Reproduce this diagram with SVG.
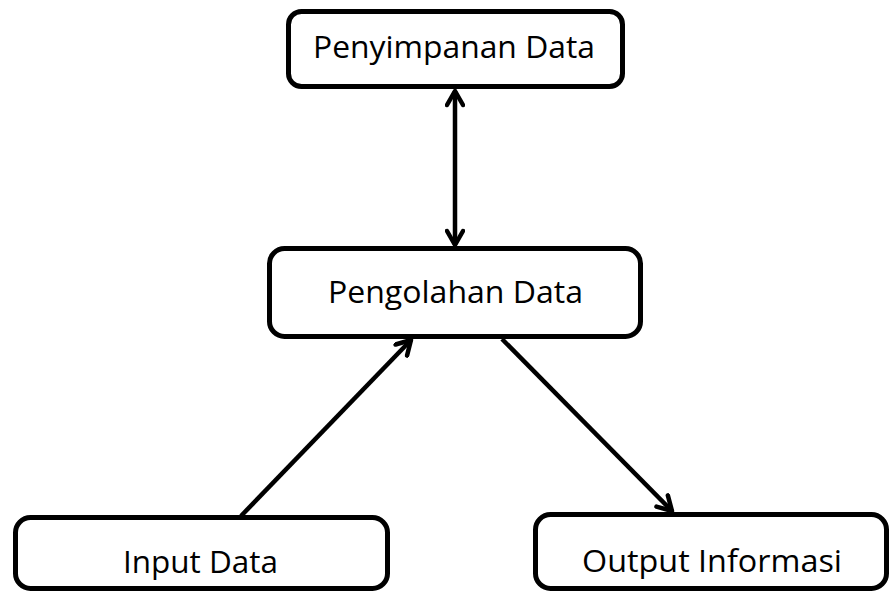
<svg xmlns="http://www.w3.org/2000/svg" width="889" height="591" viewBox="0 0 889 591">
<style>
.box{fill:#fff;stroke:#000;stroke-width:5}
.lbl{font-family:"Open Sans","Noto Sans",sans-serif;font-size:31px;fill:#000}
.con{fill:none;stroke:#000;stroke-width:4.5}
</style>
<defs>
<marker id="ah" viewBox="-20 -10 24 20" refX="0" refY="0" markerWidth="24" markerHeight="20" markerUnits="userSpaceOnUse" orient="auto-start-reverse">
<path d="M-14,-8 L0,0 L-14,8" fill="none" stroke="#000" stroke-width="4.5" stroke-linecap="round" stroke-linejoin="round"/>
</marker>
</defs>
<rect width="889" height="591" fill="#fff"/>
<g id="connectors">
<line class="con" x1="455" y1="91" x2="455" y2="245" marker-start="url(#ah)" marker-end="url(#ah)"/>
<line class="con" x1="241" y1="516" x2="411" y2="340" marker-end="url(#ah)"/>
<line class="con" x1="502" y1="339" x2="672" y2="511" marker-end="url(#ah)"/>
</g>
<g id="penyimpanan">
<rect class="box" x="288.5" y="11.5" width="334" height="75" rx="13"/>
<text class="lbl" x="313" y="58" textLength="282" lengthAdjust="spacingAndGlyphs">Penyimpanan Data</text>
</g>
<g id="pengolahan">
<rect class="box" x="269.5" y="248.5" width="371" height="88" rx="15"/>
<text class="lbl" x="328" y="303" textLength="255" lengthAdjust="spacingAndGlyphs">Pengolahan Data</text>
</g>
<g id="input">
<rect class="box" x="15.5" y="517.5" width="372" height="71" rx="15"/>
<text class="lbl" x="123" y="573" textLength="155" lengthAdjust="spacingAndGlyphs">Input Data</text>
</g>
<g id="output">
<rect class="box" x="535.5" y="514.5" width="351" height="74" rx="15"/>
<text class="lbl" x="582" y="572" textLength="260" lengthAdjust="spacingAndGlyphs">Output Informasi</text>
</g>
</svg>
